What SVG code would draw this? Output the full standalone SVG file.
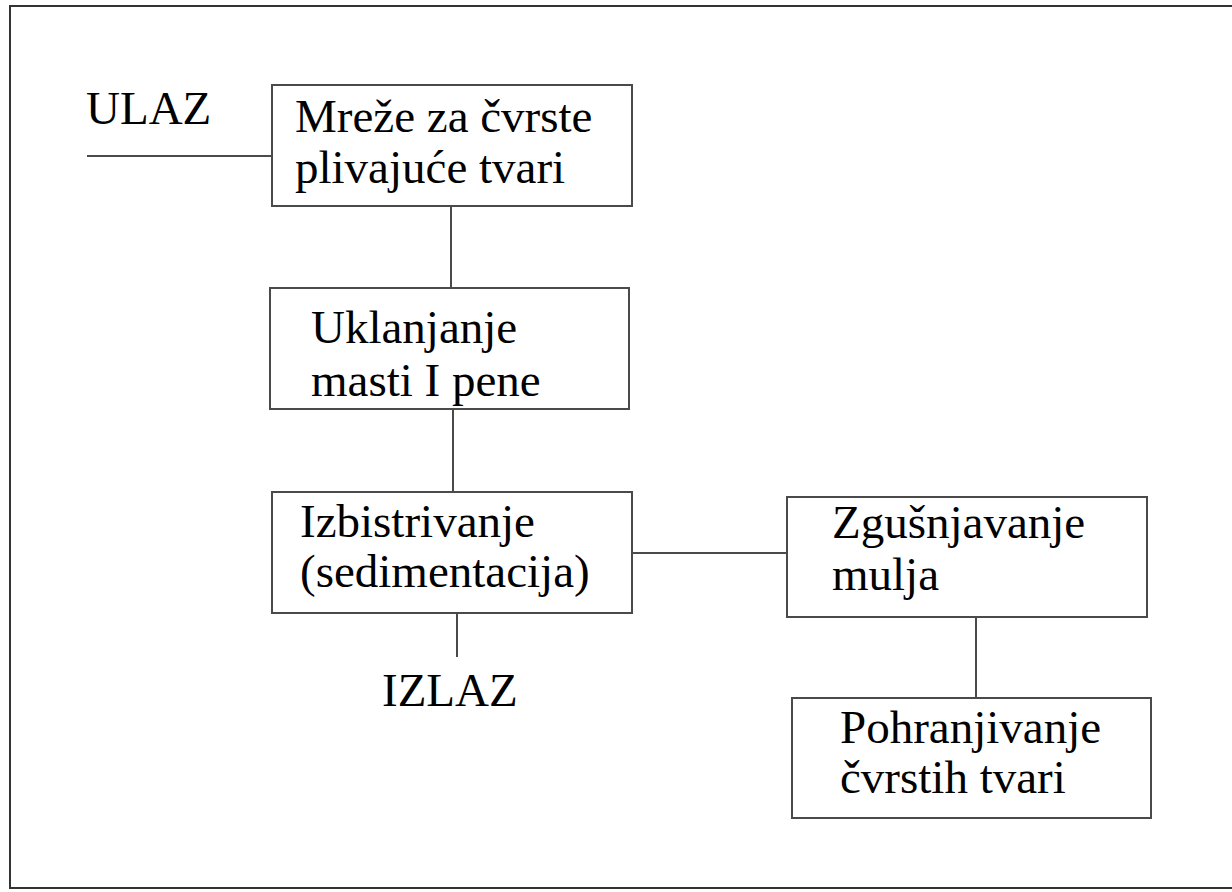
<svg xmlns="http://www.w3.org/2000/svg" width="1232" height="892" viewBox="0 0 1232 892">
  <style>
    .box { fill: #ffffff; stroke: #4a4a4a; stroke-width: 2; }
    .conn { stroke: #4a4a4a; stroke-width: 2; fill: none; }
    .t { font-family: "Liberation Serif", "Times New Roman", serif; font-size: 47px; fill: #000000; }
  </style>
  <rect x="0" y="0" width="1232" height="892" fill="#ffffff"/>
  <rect id="frame" x="10" y="6" width="1240" height="882" fill="none" stroke="#333333" stroke-width="2"/>

  <g id="connectors">
    <line class="conn" x1="87" y1="156" x2="272" y2="156"/>
    <line class="conn" x1="451" y1="206" x2="451" y2="288"/>
    <line class="conn" x1="453" y1="409" x2="453" y2="492"/>
    <line class="conn" x1="632" y1="553" x2="787" y2="553"/>
    <line class="conn" x1="457" y1="613" x2="457" y2="657"/>
    <line class="conn" x1="976" y1="617" x2="976" y2="698"/>
  </g>

  <g id="ulaz">
    <text class="t" x="86" y="124">ULAZ</text>
  </g>

  <g id="node-mreze">
    <rect class="box" x="272" y="85" width="360" height="121"/>
    <text class="t" x="295" y="132">Mreže za čvrste</text>
    <text class="t" x="295" y="183">plivajuće tvari</text>
  </g>

  <g id="node-uklanjanje">
    <rect class="box" x="270" y="288" width="359" height="121"/>
    <text class="t" x="311" y="343">Uklanjanje</text>
    <text class="t" x="311" y="396">masti I pene</text>
  </g>

  <g id="node-izbistrivanje">
    <rect class="box" x="272" y="492" width="360" height="121"/>
    <text class="t" x="300" y="537">Izbistrivanje</text>
    <text class="t" x="300" y="587">(sedimentacija)</text>
  </g>

  <g id="node-zgusnjavanje">
    <rect class="box" x="787" y="497" width="360" height="120"/>
    <text class="t" x="832" y="538">Zgušnjavanje</text>
    <text class="t" x="832" y="590">mulja</text>
  </g>

  <g id="node-pohranjivanje">
    <rect class="box" x="792" y="698" width="359" height="120"/>
    <text class="t" x="840" y="743">Pohranjivanje</text>
    <text class="t" x="840" y="793">čvrstih tvari</text>
  </g>

  <g id="izlaz">
    <text class="t" x="382" y="706">IZLAZ</text>
  </g>
</svg>
